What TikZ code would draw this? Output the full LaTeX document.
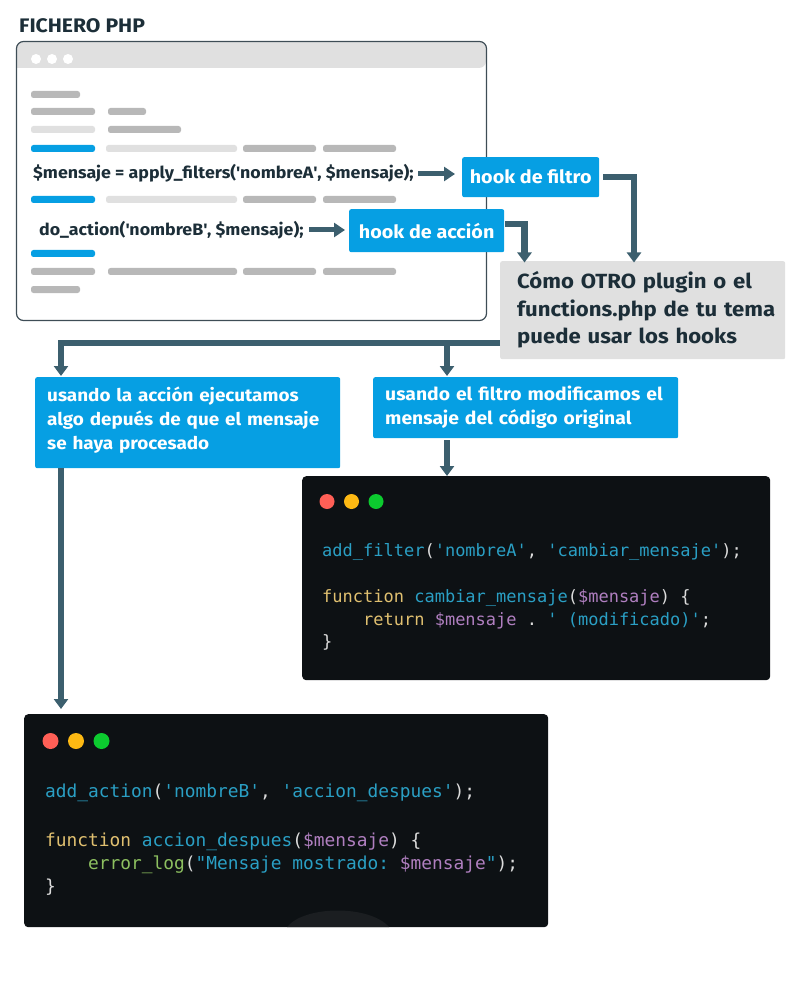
\documentclass[tikz,border=0pt]{standalone}
\usepackage{fontspec}
\setmainfont[FakeStretch=1.08]{Fira Sans}
\setmonofont{DejaVu Sans Mono}
\usetikzlibrary{arrows.meta}
\definecolor{azul}{HTML}{069FE3}
\definecolor{gris}{HTML}{E0E0E0}
\definecolor{barragris}{HTML}{B8B8B8}
\definecolor{flechac}{HTML}{3C5F6E}
\definecolor{tinta}{HTML}{1C2E38}
\definecolor{fondo}{HTML}{0D1114}
\definecolor{halo}{HTML}{1B1E21}
\definecolor{cian}{HTML}{2A9FC4}
\definecolor{amarillo}{HTML}{E0C070}
\definecolor{morado}{HTML}{B07FC0}
\definecolor{verde}{HTML}{8DC060}
\definecolor{blanco}{HTML}{DCDCDC}
\definecolor{rojoc}{HTML}{FF5F56}
\definecolor{amarc}{HTML}{FDB913}
\definecolor{verdec}{HTML}{0CCB2F}
\newcommand{\qt}{\textquotesingle}
\newcommand{\cian}[1]{\textcolor{cian}{#1}}
\newcommand{\amar}[1]{\textcolor{amarillo}{#1}}
\newcommand{\mor}[1]{\textcolor{morado}{#1}}
\newcommand{\sangria}{\hspace*{17pt}}
\tikzset{
  flecha/.style={draw=flechac, line width=6.5pt, -{Triangle[width=14pt,length=10pt]}},
  flechita/.style={draw=flechac, line width=5pt, -{Triangle[width=14pt,length=11pt]}},
  caja/.style={anchor=north west, rounded corners=2pt, align=left, inner xsep=12pt, inner ysep=0pt},
  cajaazul/.style={caja, fill=azul, text=white, font=\fontsize{17.5}{24}\selectfont\bfseries},
  hook/.style={cajaazul, align=center, inner xsep=0pt, font=\fontsize{18.3}{24}\selectfont\bfseries},
  codigo/.style={anchor=north west, align=left, text=blanco, inner sep=0pt},
  oscuro/.style={fill=fondo, rounded corners=4pt},
  linea/.style={anchor=base west, inner sep=0pt, text=tinta, font=\fontsize{16.5}{20}\selectfont\bfseries},
}
\begin{document}
\begin{tikzpicture}[x=1pt,y=-1pt]
    \useasboundingbox (0,0) rectangle (798,981);
    \node (titulo) [anchor=base west, inner sep=0pt, text=tinta, font=\fontsize{19.6}{22}\selectfont\bfseries] at (19,33) {FICHERO PHP};
    % ventana
    \fill[gris, rounded corners=7pt] (17,68) -- (17,42) -- (486,42) -- (486,68) [sharp corners] -- cycle;
    \draw[draw=tinta!85, line width=1.2pt, rounded corners=7pt] (16.5,41.5) rectangle (486.5,320.5);
    \foreach \cx in {36,52,68}
      \fill[white] (\cx,59) circle (5);
    \foreach \xa/\xb/\ya/\tono in {
        31/80/91/barragris, 31/95/108/barragris, 108/146/108/barragris,
        31/95/126/gris, 108/181/126/barragris,
        31/95/145/azul, 106/237/145/gris, 243/316/145/barragris, 323/396/145/barragris,
        31/95/196/azul, 106/237/196/gris, 243/316/196/barragris, 323/396/196/barragris,
        31/95/250/azul,
        31/95/268/barragris, 108/237/268/barragris, 243/316/268/barragris, 323/396/268/barragris,
        31/80/286/barragris}
      \fill[\tono, rounded corners=2.5pt] (\xa,\ya) rectangle (\xb,\ya+7);
    \node (filtros) [linea] at (33,179) {\$mensaje = apply\_filters(\qt nombreA\qt, \$mensaje);};
    \node (accion) [linea] at (39,236) {do\_action(\qt nombreB\qt, \$mensaje);};
    % cajas
    \node (hookfiltro) [hook, minimum width=137pt, minimum height=40pt] at (462,157) {hook de filtro};
    \node (hookaccion) [hook, minimum width=155pt, minimum height=43pt] at (349,209) {hook de acción};
    \node (otro) [caja, fill=gris, text=tinta, minimum height=98pt, text width=285pt, inner xsep=0pt, font=\fontsize{20.5}{27.5}\selectfont\bfseries] at (500,261)
      {\sangria Cómo OTRO plugin o el\\\sangria functions.php de tu tema\\\sangria puede usar los hooks};
    \node (usofiltro) [cajaazul, minimum height=61pt, text width=281pt, font=\fontsize{17.9}{24}\selectfont\bfseries] at (373,377)
      {usando el filtro modificamos el\\mensaje del código original};
    \node (usoaccion) [cajaazul, minimum height=91pt, text width=281pt] at (35,377)
      {usando la acción ejecutamos\\algo depués de que el mensaje\\se haya procesado\rule[-9pt]{0pt}{9pt}};
    % codigo
    \node (ventanafiltro) [oscuro, anchor=north west, minimum width=468pt, minimum height=204pt, inner sep=0pt] at (302,476) {};
    \node (ventanaaccion) [oscuro, anchor=north west, minimum width=524pt, minimum height=213pt, inner sep=0pt] at (24,714) {};
    \fill[halo] (287,927) .. controls (305,905) and (370,905) .. (389,927) -- cycle;
    \foreach \cx/\tono in {327/rojoc,351.5/amarc,376/verdec}
      \fill[\tono] (\cx,501.5) circle (7.5);
    \foreach \cx/\tono in {50.5/rojoc,76/amarc,101.5/verdec}
      \fill[\tono] (\cx,741) circle (8);
    \node (codigofiltro) [codigo, font=\fontsize{17}{22.7}\selectfont\ttfamily] at (322,543.5) {%
      \cian{add\_filter}(\cian{\qt nombreA\qt}, \cian{\qt cambiar\_mensaje\qt});\\[23pt]
      \amar{function} \cian{cambiar\_mensaje}(\mor{\$mensaje}) \{\\
      \phantom{xxxx}\amar{return} \mor{\$mensaje} . \cian{\qt\ (modificado)\qt};\\
      \}};
    \node (codigoaccion) [codigo, font=\fontsize{17.85}{23}\selectfont\ttfamily] at (45,784) {%
      \cian{add\_action}(\cian{\qt nombreB\qt}, \cian{\qt accion\_despues\qt});\\[26pt]
      \amar{function} \cian{accion\_despues}(\mor{\$mensaje}) \{\\
      \phantom{xxxx}\textcolor{verde}{error\_log}(\cian{"Mensaje mostrado: }\mor{\$mensaje}\cian{"});\\
      \}};
    % flechas
    \coordinate (salidaaccion) at (505,224);
    \coordinate (entradaaccion) at (524.5,262.5);
    \coordinate (entradafiltro) at (634,262.5);
    \coordinate (salidaotro) at (500,343);
    \coordinate (ramal) at (447,343);
    \coordinate (entradausoaccion) at (61,376);
    \coordinate (entradausofiltro) at (447,376);
    \coordinate (salidausofiltro) at (447,440);
    \coordinate (entradaventana) at (447,476);
    \coordinate (salidausoaccion) at (61,468);
    \coordinate (entradaaccionv) at (61,709);
    \coordinate (finfiltros) at (418,174);
    \coordinate (puntafiltros) at (455,174);
    \coordinate (finaccion) at (309,230);
    \coordinate (puntaaccion) at (345,230);
    \draw[flechita] (finfiltros) -- (puntafiltros);
    \draw[flechita] (finaccion) -- (puntaaccion);
    \draw[flecha, shorten <=4pt] (hookfiltro.east) -| (entradafiltro);
    \draw[flecha] (salidaaccion) -| (entradaaccion);
    \draw[flecha] (salidaotro) -| (entradausoaccion);
    \draw[flecha] (ramal) -- (entradausofiltro);
    \draw[flecha] (salidausofiltro) -- (entradaventana);
    \draw[flecha] (salidausoaccion) -- (entradaaccionv);
\end{tikzpicture}
\end{document}
